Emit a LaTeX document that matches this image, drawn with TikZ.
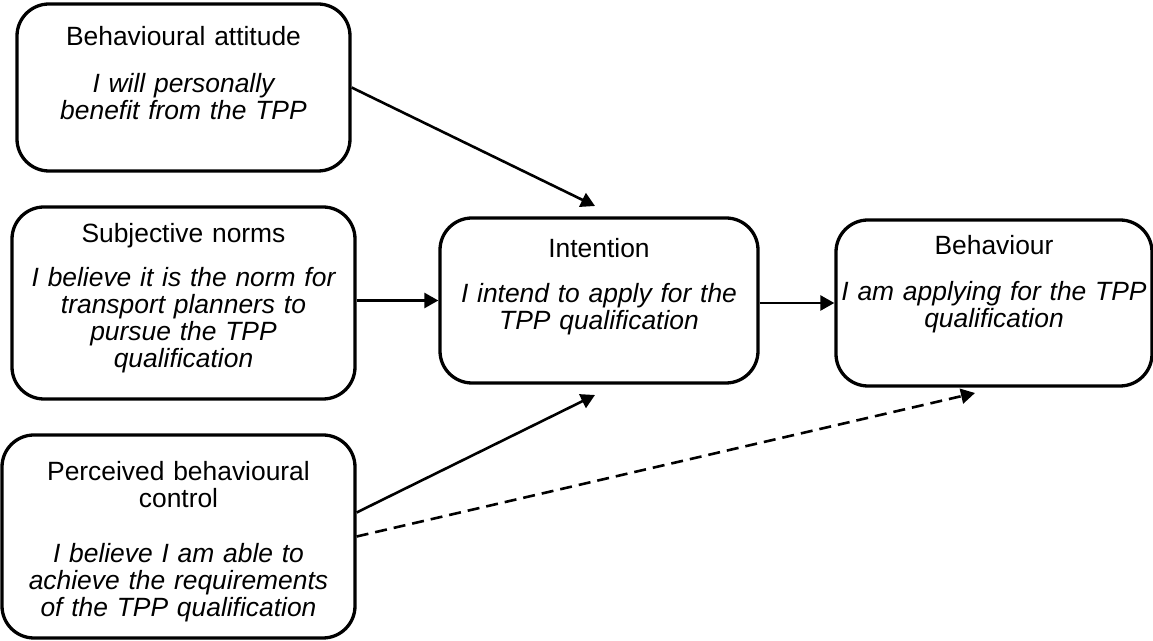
\documentclass[tikz,border=0pt]{standalone}
\usepackage{fontspec}
\setmainfont{Liberation Sans}
\usetikzlibrary{positioning,arrows.meta}
\newcommand{\tpbtext}[5]{%
  \begin{minipage}[c][#1][t]{\linewidth}\centering
    \vspace*{#2}#4\par\vspace{#3}\itshape #5
  \end{minipage}}
\tikzset{%
  tpb/.style={draw,line width=1.65pt,rounded corners=16pt,inner sep=0pt,
    align=center,font={\fontsize{13.2}{13.5}\selectfont}},
  link/.style={line width=1.3pt,-{Triangle[length=7pt,width=7.5pt]}},
  hyp/.style={link,dash pattern=on 6pt off 3.5pt}
}
\begin{document}
\begin{tikzpicture}[x=0.5pt,y=-0.5pt]
  \useasboundingbox (0,0) rectangle (1153,641);

  \node[tpb,text width=166.5pt,minimum height=83.5pt] (att) at (183.5,87.5)
    {\tpbtext{83.5pt}{11pt}{10pt}{Behavioural attitude}{I will personally\\benefit from the TPP}};
  \node[tpb,text width=171.5pt,minimum height=96pt] (nrm) at (183.5,303)
    {\tpbtext{96pt}{8.4pt}{8.5pt}{Subjective norms}{I believe it is the norm for\\transport planners to\\pursue the TPP\\qualification}};
  \node[tpb,text width=176.5pt,minimum height=101.5pt] (pbc) at (178.5,536.5)
    {\tpbtext{101.5pt}{13pt}{14pt}{Perceived behavioural\\control}{I believe I am able to\\achieve the requirements\\of the TPP qualification}};
  \node[tpb,text width=159pt,minimum height=82.5pt] (int) at (599,300.5)
    {\tpbtext{82.5pt}{10pt}{9pt}{Intention}{I intend to apply for the\\TPP qualification}};
  \node[tpb,text width=158pt,minimum height=83pt] (beh) at (994,303)
    {\tpbtext{83pt}{7.5pt}{9.5pt}{Behaviour}{I am applying for the TPP\\qualification}};

  \coordinate (atttip) at (595,206);
  \coordinate (pbctip) at (595,395);
  \coordinate (behtip) at (975,393);

  \draw[link] (att.east) -- (atttip);
  \draw[link] (nrm.east |- int.west) -- (int.west);
  \draw[link] ([yshift=12pt]pbc.east) -- (pbctip);
  \draw[hyp] (pbc.east) -- (behtip);
  \draw[link] (int.east |- beh.west) -- (beh.west);
\end{tikzpicture}
\end{document}
